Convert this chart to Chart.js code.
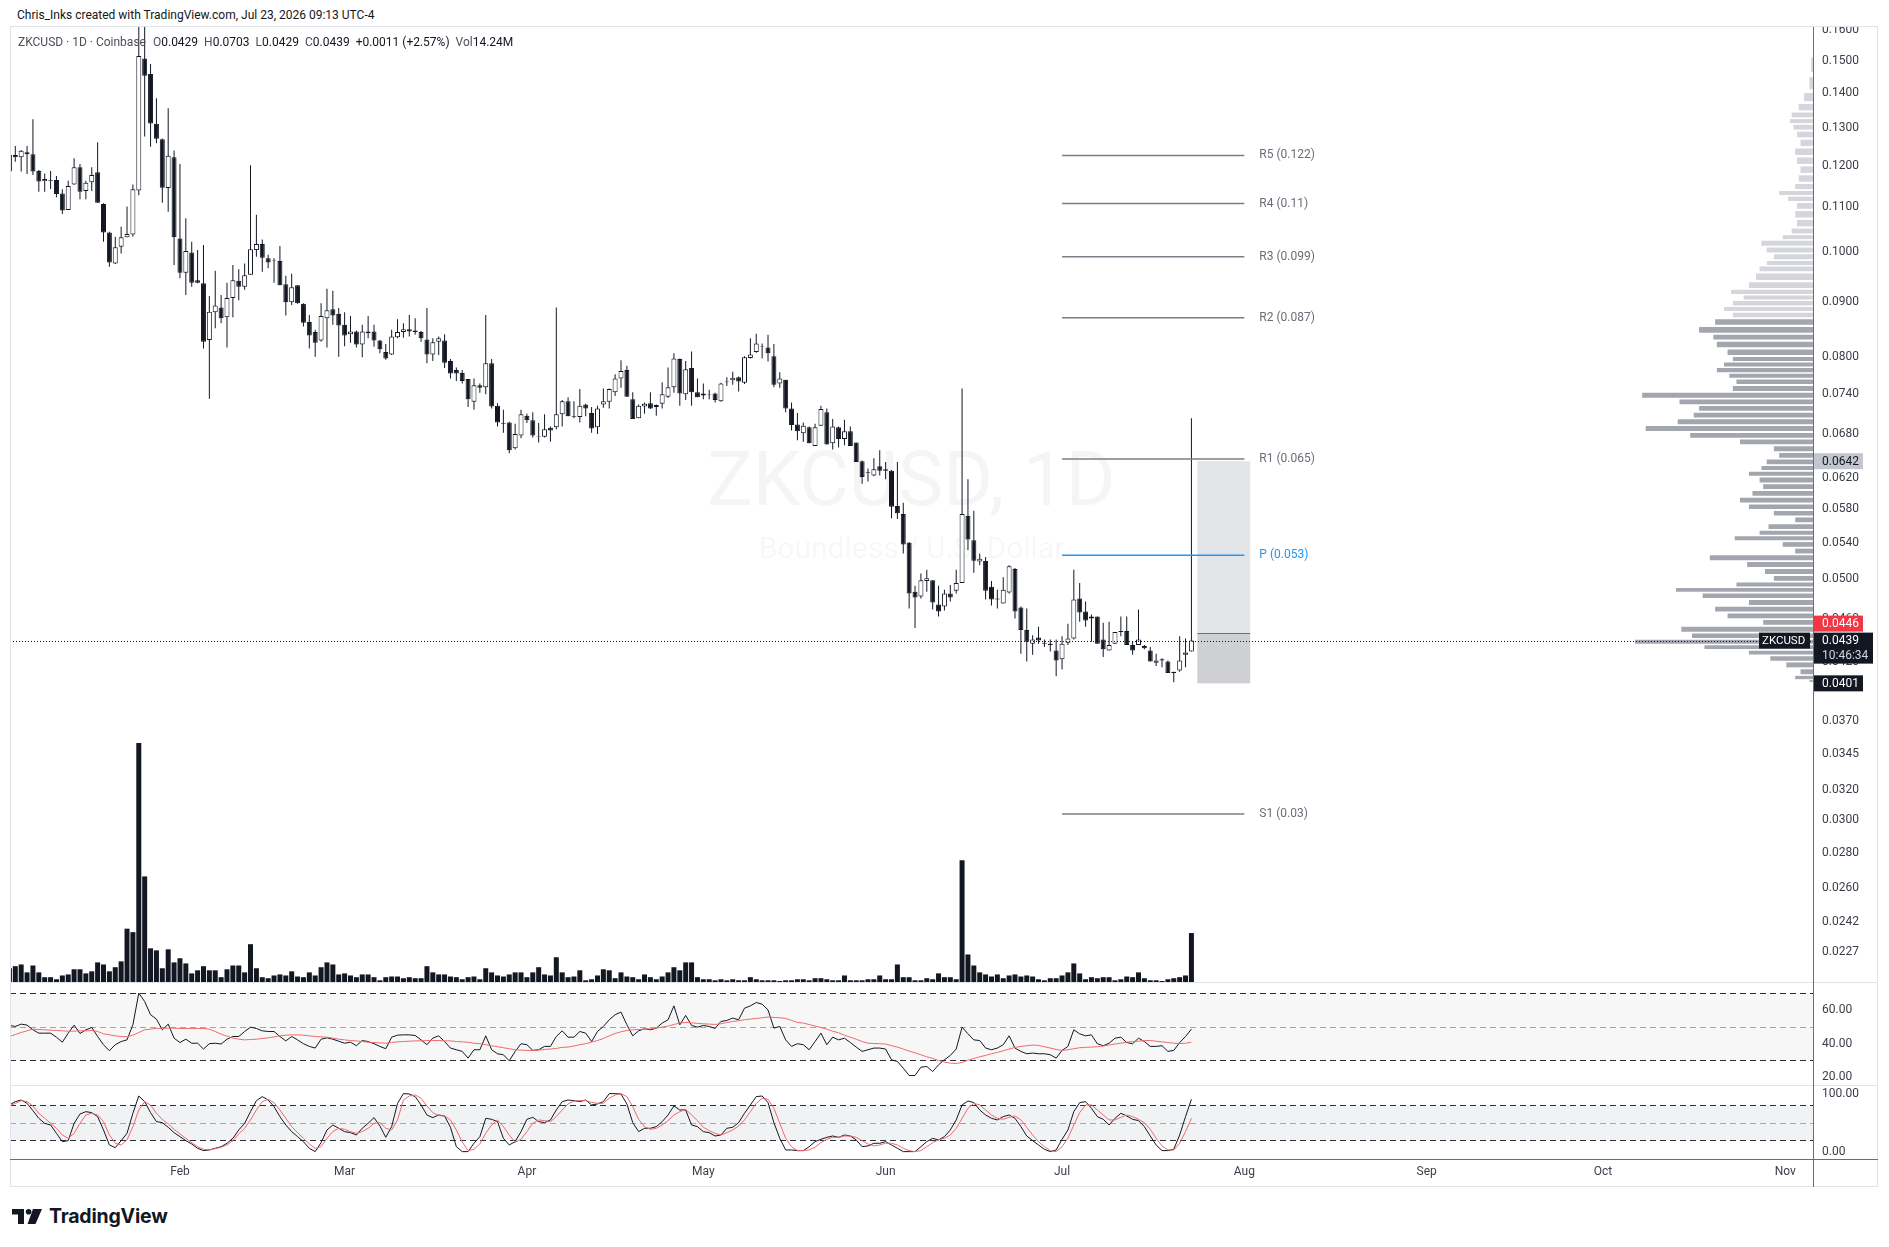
<!DOCTYPE html>
<html>
<head>
<meta charset="utf-8">
<title>ZKCUSD · 1D · Coinbase</title>
<script src="https://cdn.jsdelivr.net/npm/chart.js@4.4.1/dist/chart.umd.min.js"></script>
<style>
  html, body { margin: 0; padding: 0; background: #fff; }
  body { width: 1889px; height: 1247px; position: relative; overflow: hidden;
         font-family: Roboto, "Noto Sans", sans-serif; color: #131722; }
  canvas { position: absolute; }
  .abs { position: absolute; }
  #hdr { left: 17px; top: 7px; font-size: 12px; line-height: 16px; white-space: nowrap; z-index: 5; }
  #legend { left: 18px; top: 34px; font-size: 12px; line-height: 16px; white-space: nowrap; z-index: 5; }
  #legend .k { color: #4c4f5a; }
  #legend .v { color: #131722; margin-right: 6px; }
  #legend .sym { color: #4c4f5a; margin-right: 7px; }
  #frame { left: 10px; top: 26px; width: 1868px; height: 1161px; border: 1px solid #e0e3eb; box-sizing: border-box; z-index: 4; }
  .hl { height: 1px; left: 10px; width: 1868px; z-index: 4; }
  .wm { left: 10px; width: 1803px; text-align: center; color: rgba(19, 23, 34, 0.045); white-space: nowrap; z-index: 0; }
  #wm1 { top: 434px; font-size: 76px; line-height: 90px; }
  #wm2 { top: 530px; font-size: 30px; line-height: 36px; }
  #brand { left: 12px; top: 1207px; height: 18px; display: flex; align-items: center; z-index: 5; }
  #brand span { font-family: Inter, Roboto, sans-serif; font-weight: 700; font-size: 19.5px; margin-left: 7px; letter-spacing: -0.2px; }
</style>
</head>
<body>
<div id="hdr" class="abs">Chris_Inks created with TradingView.com, Jul 23, 2026 09:13 UTC-4</div>
<div id="frame" class="abs"></div>
<div id="wm1" class="abs wm">ZKCUSD, 1D</div>
<div id="wm2" class="abs wm">Boundless / U.S. Dollar</div>

<canvas id="profileChart" width="1868" height="955" style="left:10px;top:27px;z-index:1"></canvas>
<canvas id="priceChart" width="1868" height="955" style="left:10px;top:27px;z-index:2"></canvas>
<canvas id="rsiChart" width="1868" height="102" style="left:10px;top:983px;z-index:2"></canvas>
<canvas id="stochChart" width="1868" height="101" style="left:10px;top:1086px;z-index:2"></canvas>

<div class="abs hl" style="top:982px;background:#e0e3eb"></div>
<div class="abs hl" style="top:1085px;background:#e0e3eb"></div>
<div class="abs hl" style="top:1159px;background:#6a6d78"></div>
<div class="abs" style="left:1813px;top:27px;width:1px;height:1160px;background:#6a6d78;z-index:4"></div>

<div id="legend" class="abs"></div>

<div id="brand" class="abs">
  <svg width="30" height="15" viewBox="0 0 30 15">
    <rect x="0" y="0" width="12" height="5.5" fill="#131722"/>
    <rect x="6" y="0" width="6" height="15" fill="#131722"/>
    <circle cx="16.6" cy="2.8" r="2.8" fill="#131722"/>
    <polygon points="21,0 30,0 23.5,15 15.5,15" fill="#131722"/>
  </svg>
  <span>TradingView</span>
</div>

<script>
// Свечи ZKCUSD, 1D, с 3 янв по 23 июл 2026 (индекс 0 = 3 января)
const symbol = 'ZKCUSD';
const startDate = new Date(2026, 0, 3);

const openPrices = [
  0.1186,0.1228,0.1222,0.1235,0.1230,0.1187,0.1162,0.1165,0.1165,0.1132,
  0.1093,0.1154,0.1197,0.1138,0.1159,0.1184,0.1107,0.1042,0.0976,0.1011,
  0.1032,0.1038,0.1139,0.1507,0.1458,0.1312,0.1270,0.1145,0.1222,0.1029,
  0.0957,0.0999,0.0942,0.0936,0.0830,0.0880,0.0889,0.0871,0.0907,0.0941,
  0.0929,0.0953,0.1004,0.1017,0.0987,0.0983,0.0981,0.0934,0.0899,0.0932,
  0.0896,0.0862,0.0844,0.0829,0.0869,0.0886,0.0877,0.0857,0.0840,0.0845,
  0.0822,0.0845,0.0845,0.0829,0.0809,0.0805,0.0835,0.0844,0.0849,0.0847,
  0.0844,0.0831,0.0805,0.0827,0.0829,0.0794,0.0779,0.0774,0.0764,0.0728,
  0.0754,0.0751,0.0790,0.0722,0.0696,0.0697,0.0660,0.0678,0.0707,0.0700,
  0.0677,0.0676,0.0689,0.0690,0.0709,0.0729,0.0706,0.0705,0.0724,0.0711,
  0.0690,0.0724,0.0728,0.0743,0.0765,0.0779,0.0732,0.0703,0.0721,0.0726,
  0.0720,0.0725,0.0736,0.0751,0.0797,0.0740,0.0782,0.0743,0.0738,0.0740,
  0.0741,0.0729,0.0760,0.0762,0.0767,0.0758,0.0799,0.0809,0.0819,0.0817,
  0.0802,0.0757,0.0763,0.0718,0.0694,0.0681,0.0690,0.0663,0.0692,0.0712,
  0.0667,0.0690,0.0673,0.0684,0.0668,0.0642,0.0627,0.0623,0.0635,0.0631,
  0.0629,0.0584,0.0574,0.0540,0.0487,0.0482,0.0498,0.0499,0.0474,0.0472,
  0.0485,0.0488,0.0496,0.0572,0.0543,0.0519,0.0520,0.0492,0.0480,0.0475,
  0.0486,0.0511,0.0471,0.0449,0.0436,0.0442,0.0437,0.0436,0.0430,0.0422,
  0.0437,0.0441,0.0480,0.0467,0.0460,0.0462,0.0440,0.0430,0.0436,0.0447,
  0.0448,0.0435,0.0435,0.0434,0.0430,0.0419,0.0422,0.0420,0.0411,0.0412,
  0.0426,0.0429
];
const highPrices = [
  0.1230,0.1252,0.1241,0.1252,0.1325,0.1190,0.1181,0.1187,0.1175,0.1142,
  0.1163,0.1220,0.1205,0.1163,0.1197,0.1262,0.1109,0.1044,0.1033,0.1055,
  0.1101,0.1154,0.1750,0.1650,0.1489,0.1385,0.1272,0.1356,0.1240,0.1205,
  0.1074,0.1022,0.1004,0.1015,0.0911,0.0961,0.0913,0.0937,0.0973,0.0964,
  0.0976,0.1202,0.1082,0.1027,0.0994,0.0987,0.1013,0.0951,0.0955,0.0932,
  0.0897,0.0875,0.0848,0.0897,0.0925,0.0921,0.0888,0.0880,0.0873,0.0847,
  0.0857,0.0873,0.0857,0.0830,0.0823,0.0848,0.0867,0.0860,0.0875,0.0869,
  0.0846,0.0888,0.0833,0.0836,0.0840,0.0797,0.0783,0.0779,0.0764,0.0765,
  0.0757,0.0875,0.0797,0.0726,0.0716,0.0698,0.0695,0.0716,0.0710,0.0712,
  0.0696,0.0709,0.0691,0.0889,0.0731,0.0735,0.0729,0.0748,0.0725,0.0720,
  0.0722,0.0749,0.0749,0.0772,0.0795,0.0786,0.0743,0.0724,0.0727,0.0743,
  0.0724,0.0759,0.0783,0.0807,0.0798,0.0794,0.0810,0.0765,0.0757,0.0747,
  0.0742,0.0758,0.0767,0.0776,0.0768,0.0802,0.0833,0.0841,0.0824,0.0839,
  0.0823,0.0775,0.0763,0.0727,0.0711,0.0697,0.0691,0.0695,0.0722,0.0718,
  0.0702,0.0691,0.0701,0.0691,0.0668,0.0643,0.0632,0.0646,0.0657,0.0641,
  0.0630,0.0641,0.0588,0.0541,0.0493,0.0506,0.0510,0.0499,0.0493,0.0489,
  0.0494,0.0510,0.0749,0.0618,0.0578,0.0528,0.0524,0.0498,0.0489,0.0502,
  0.0515,0.0512,0.0472,0.0470,0.0444,0.0452,0.0440,0.0440,0.0440,0.0443,
  0.0455,0.0510,0.0496,0.0477,0.0464,0.0462,0.0456,0.0457,0.0447,0.0462,
  0.0462,0.0438,0.0469,0.0435,0.0433,0.0427,0.0423,0.0421,0.0411,0.0443,
  0.0441,0.0703
];
const lowPrices = [
  0.1180,0.1211,0.1186,0.1180,0.1177,0.1136,0.1136,0.1143,0.1123,0.1084,
  0.1093,0.1153,0.1118,0.1118,0.1138,0.1110,0.1022,0.0969,0.0975,0.0997,
  0.1032,0.1033,0.1128,0.1277,0.1250,0.1259,0.1110,0.1089,0.0973,0.0946,
  0.0913,0.0929,0.0936,0.0815,0.0733,0.0851,0.0860,0.0817,0.0871,0.0903,
  0.0923,0.0953,0.0990,0.0959,0.0966,0.0937,0.0932,0.0874,0.0894,0.0896,
  0.0854,0.0815,0.0801,0.0827,0.0817,0.0857,0.0801,0.0819,0.0825,0.0817,
  0.0800,0.0833,0.0818,0.0807,0.0796,0.0804,0.0833,0.0834,0.0836,0.0839,
  0.0827,0.0790,0.0794,0.0804,0.0782,0.0765,0.0761,0.0757,0.0720,0.0716,
  0.0742,0.0740,0.0718,0.0691,0.0682,0.0653,0.0658,0.0674,0.0696,0.0675,
  0.0668,0.0675,0.0669,0.0687,0.0691,0.0706,0.0703,0.0697,0.0706,0.0682,
  0.0680,0.0719,0.0718,0.0737,0.0750,0.0736,0.0702,0.0703,0.0710,0.0717,
  0.0707,0.0718,0.0734,0.0742,0.0722,0.0731,0.0722,0.0735,0.0732,0.0732,
  0.0727,0.0728,0.0753,0.0755,0.0744,0.0756,0.0798,0.0808,0.0798,0.0793,
  0.0751,0.0750,0.0712,0.0685,0.0671,0.0669,0.0667,0.0663,0.0692,0.0665,
  0.0658,0.0661,0.0664,0.0663,0.0641,0.0612,0.0615,0.0622,0.0623,0.0618,
  0.0569,0.0568,0.0528,0.0470,0.0451,0.0480,0.0487,0.0469,0.0462,0.0468,
  0.0477,0.0485,0.0496,0.0532,0.0507,0.0515,0.0479,0.0473,0.0470,0.0475,
  0.0485,0.0460,0.0427,0.0420,0.0426,0.0436,0.0433,0.0429,0.0407,0.0413,
  0.0435,0.0440,0.0457,0.0452,0.0438,0.0436,0.0424,0.0430,0.0436,0.0443,
  0.0435,0.0426,0.0435,0.0431,0.0420,0.0416,0.0415,0.0410,0.0402,0.0411,
  0.0415,0.0429
];
const closePrices = [
  0.1228,0.1222,0.1239,0.1230,0.1186,0.1161,0.1167,0.1163,0.1131,0.1092,
  0.1150,0.1197,0.1136,0.1158,0.1177,0.1110,0.1042,0.0978,0.1010,0.1032,
  0.1039,0.1142,0.1515,0.1453,0.1313,0.1271,0.1146,0.1226,0.1032,0.0957,
  0.1002,0.0937,0.0937,0.0827,0.0881,0.0893,0.0869,0.0907,0.0942,0.0929,
  0.0952,0.1006,0.1017,0.0988,0.0978,0.0982,0.0932,0.0899,0.0928,0.0897,
  0.0861,0.0838,0.0825,0.0873,0.0884,0.0874,0.0856,0.0838,0.0845,0.0822,
  0.0845,0.0842,0.0829,0.0814,0.0798,0.0836,0.0844,0.0849,0.0845,0.0844,
  0.0833,0.0805,0.0826,0.0833,0.0791,0.0773,0.0773,0.0761,0.0732,0.0754,
  0.0750,0.0790,0.0721,0.0697,0.0695,0.0657,0.0680,0.0709,0.0700,0.0678,
  0.0676,0.0687,0.0685,0.0709,0.0729,0.0706,0.0705,0.0722,0.0718,0.0688,
  0.0718,0.0729,0.0748,0.0765,0.0777,0.0736,0.0702,0.0722,0.0725,0.0718,
  0.0723,0.0740,0.0751,0.0798,0.0741,0.0780,0.0743,0.0735,0.0741,0.0739,
  0.0731,0.0757,0.0759,0.0766,0.0760,0.0800,0.0805,0.0824,0.0818,0.0807,
  0.0755,0.0765,0.0718,0.0693,0.0684,0.0692,0.0667,0.0690,0.0717,0.0665,
  0.0691,0.0673,0.0684,0.0663,0.0641,0.0621,0.0626,0.0631,0.0629,0.0629,
  0.0583,0.0575,0.0538,0.0485,0.0481,0.0499,0.0501,0.0476,0.0467,0.0485,
  0.0481,0.0496,0.0574,0.0544,0.0520,0.0522,0.0488,0.0479,0.0479,0.0489,
  0.0514,0.0467,0.0449,0.0438,0.0440,0.0439,0.0436,0.0435,0.0421,0.0436,
  0.0441,0.0479,0.0466,0.0458,0.0462,0.0436,0.0431,0.0435,0.0447,0.0448,
  0.0435,0.0430,0.0440,0.0432,0.0420,0.0421,0.0421,0.0410,0.0410,0.0421,
  0.0428,0.0439
];
// Объём, млн
const volumes = [
  4.0,4.6,5.1,2.8,4.8,2.8,1.4,1.4,0.8,1.9,
  2.2,3.7,3.7,2.5,3.1,5.7,5.1,3.1,4.3,6.0,
  15.5,14.5,69.5,30.7,9.8,9.2,4.0,9.5,5.7,6.9,
  5.4,2.5,3.4,4.6,3.4,3.4,1.4,3.7,4.8,4.8,
  2.8,11.0,4.0,1.4,1.1,1.9,2.2,1.9,3.1,1.6,
  1.4,2.8,1.9,4.3,5.7,5.1,2.2,2.5,1.9,1.4,
  2.2,2.2,1.4,0.5,1.4,1.6,1.6,1.1,1.4,1.1,
  1.1,4.6,2.8,2.2,2.2,1.6,1.4,0.8,1.4,1.6,
  0.8,4.0,2.8,1.9,1.6,2.2,2.8,2.8,1.4,2.8,
  4.3,2.2,1.9,7.2,2.8,1.4,1.6,3.4,0.5,0.8,
  1.9,3.7,3.4,1.1,2.8,1.6,1.4,0.8,2.2,1.4,
  0.8,1.6,2.8,4.3,3.4,5.7,5.7,1.4,0.8,0.8,
  0.5,0.8,0.5,0.8,0.5,0.5,1.4,0.8,0.5,0.5,
  0.5,0.3,0.5,0.5,0.8,0.8,0.5,1.1,1.1,0.8,
  0.5,0.5,1.9,0.5,0.5,0.5,0.8,0.8,1.9,0.8,
  0.8,5.1,1.4,1.4,0.5,0.5,1.1,0.8,2.5,1.4,
  1.4,0.8,35.4,8.0,4.8,2.8,2.2,1.6,2.2,1.1,
  1.9,2.2,1.6,1.9,1.6,0.8,0.5,1.1,1.1,1.9,
  2.8,5.4,2.5,0.8,1.4,1.1,1.4,1.4,0.5,0.8,
  1.6,1.4,2.8,1.1,0.5,0.5,0.3,0.8,1.1,1.4,
  1.9,14.24
];
// RSI и его скользящая
const rsiValues = [
  50.8,50.2,51.6,51.0,48.2,46.2,46.2,46.2,43.8,40.8,
  46.2,51.0,46.0,48.2,49.6,44.2,39.3,35.7,39.3,41.2,
  42.2,51.2,70.1,65.1,57.2,54.6,48.2,51.6,43.2,40.6,
  42.6,40.2,40.2,36.7,39.9,40.2,39.7,42.6,44.2,44.2,
  47.2,49.8,49.0,47.6,47.2,47.2,44.2,41.6,44.2,42.2,
  39.9,38.3,37.3,42.6,43.4,42.6,41.4,40.2,40.8,38.7,
  41.8,41.2,39.9,38.3,36.9,43.8,45.0,45.2,45.2,44.8,
  42.2,39.3,43.2,44.6,41.2,37.3,36.3,35.3,31.3,36.3,
  36.3,44.6,36.3,33.9,33.3,29.7,35.3,39.9,39.3,35.9,
  36.3,38.3,38.3,44.2,47.6,43.8,43.8,47.2,46.2,41.2,
  47.2,50.2,54.2,57.2,58.8,51.2,44.6,47.6,48.8,48.2,
  49.2,52.2,54.2,62.5,51.2,56.8,50.8,49.8,50.8,50.2,
  49.0,53.2,53.8,55.2,54.2,61.1,62.5,64.5,63.5,60.1,
  49.2,50.2,42.2,38.3,39.9,39.3,36.3,41.2,46.2,39.3,
  43.8,42.2,43.2,40.6,37.9,35.3,36.3,37.3,37.3,36.7,
  30.3,29.3,25.3,20.9,20.9,25.9,26.3,23.3,27.3,30.3,
  32.9,36.7,49.8,45.8,42.2,41.8,37.3,36.3,37.3,39.3,
  44.6,37.3,35.3,33.9,34.3,33.9,33.9,33.3,31.3,35.9,
  38.3,48.2,45.8,44.6,45.2,39.9,38.7,40.2,43.2,43.8,
  40.6,39.9,43.2,41.2,38.3,38.3,38.7,35.3,35.9,40.6,
  44.2,48.6
];
const rsiMaValues = [
  44.2,45.4,46.6,47.6,48.6,48.4,48.2,48.0,47.8,47.6,
  47.4,47.4,47.6,47.6,47.8,47.2,45.8,45.2,44.6,44.2,
  44.0,45.0,46.6,48.2,48.6,49.0,49.2,49.2,49.2,49.0,
  49.0,49.0,49.0,49.0,48.6,47.2,45.6,44.4,43.2,42.6,
  42.2,42.4,42.6,43.0,43.4,44.0,44.6,45.0,45.2,45.2,
  45.0,44.6,44.2,44.0,43.8,43.2,42.6,42.2,41.8,41.6,
  41.2,40.8,40.6,40.4,40.2,40.6,41.0,41.2,41.4,41.6,
  41.6,41.8,41.8,41.8,41.6,41.6,41.2,41.0,40.8,40.2,
  39.9,39.3,38.7,38.1,37.5,36.9,36.3,36.1,35.9,35.9,
  36.1,36.5,36.7,37.1,37.7,37.9,38.5,39.3,39.9,40.8,
  41.8,43.0,44.6,46.0,47.0,47.8,48.2,48.4,48.6,48.8,
  49.2,49.8,50.4,51.4,52.2,52.6,52.4,52.0,51.8,51.6,
  51.4,51.8,52.6,53.2,53.6,54.2,54.6,55.0,55.4,55.8,
  55.6,55.4,55.0,53.8,52.6,52.2,51.4,50.4,49.6,48.6,
  47.4,46.4,45.0,43.8,42.6,41.2,40.2,40.0,39.9,39.7,
  38.7,37.9,36.7,35.5,34.5,33.3,32.1,31.1,29.9,28.9,
  28.3,28.1,28.7,30.1,31.1,32.1,32.9,33.9,34.7,35.7,
  36.7,37.7,38.3,38.7,39.1,38.9,38.1,37.3,36.5,35.9,
  36.3,36.9,37.5,37.7,37.9,38.1,38.5,39.1,39.7,40.2,
  40.8,41.2,41.4,41.8,41.8,41.4,41.0,40.6,40.2,40.0,
  40.2,40.8
];
// Стохастик %K и %D
const stochK = [
  80.6,86.3,89.1,83.4,70.9,57.7,49.1,46.3,32.0,17.7,
  19.4,49.1,65.1,69.1,67.4,60.6,37.7,12.0,7.4,19.4,
  32.0,66.3,96.0,86.3,67.4,52.0,50.3,42.3,33.1,26.3,
  19.4,13.7,6.3,2.3,3.4,6.3,9.1,14.9,23.4,37.7,
  49.1,69.1,88.0,94.9,89.1,77.7,60.6,46.3,34.9,26.3,
  17.7,6.3,0.6,16.0,37.7,46.3,40.6,34.9,33.1,29.1,
  40.6,49.1,58.9,44.6,25.1,43.4,83.4,100,99.4,94.9,
  80.6,63.4,58.9,63.4,61.7,42.3,9.1,0.6,0.6,14.9,
  26.3,57.7,56.0,52.0,23.4,12.0,17.7,34.9,56.0,59.4,
  52.0,50.3,54.9,72.0,86.3,89.1,88.0,86.3,89.1,80.6,
  82.3,86.3,100,100,99.4,82.3,50.3,34.9,40.6,40.6,
  43.4,52.0,63.4,78.9,72.0,72.0,46.3,43.4,34.9,33.1,
  27.4,29.1,40.6,42.3,50.3,66.3,80.6,94.9,96.0,84.6,
  50.3,23.4,3.4,3.4,2.3,2.3,9.1,17.7,21.7,25.1,
  27.4,25.1,29.1,27.4,20.6,9.1,10.3,14.9,14.9,17.7,
  12.0,6.3,0.6,0.6,0.6,9.1,17.7,23.4,20.6,26.3,
  37.7,54.9,80.6,87.4,84.6,72.0,63.4,57.7,54.9,60.6,
  63.4,57.7,43.4,27.4,19.4,12.0,4.6,0.6,3.4,21.7,
  37.7,69.1,84.6,86.3,74.9,60.6,56.0,46.3,57.7,66.3,
  61.7,56.0,53.7,43.4,27.4,12.0,2.3,2.3,4.6,29.1,
  60.6,90.3
];
const stochD = [
  78.9,83.4,88.0,86.3,78.9,66.3,57.7,49.1,40.6,29.1,
  23.4,32.0,49.1,63.4,66.3,63.4,52.0,29.1,14.9,12.0,
  20.6,43.4,72.0,86.3,80.6,66.3,56.0,48.0,38.9,30.9,
  23.4,16.0,9.1,4.6,3.4,5.7,8.0,12.0,19.4,30.9,
  40.6,54.9,72.0,86.3,90.3,84.6,72.0,57.7,43.4,33.1,
  23.4,13.7,6.3,9.1,23.4,34.9,40.6,38.9,34.9,32.0,
  34.9,40.6,49.1,50.3,40.6,37.7,54.9,89.1,96.0,97.7,
  92.0,78.9,67.4,62.3,61.7,54.9,37.7,17.1,2.3,4.6,
  13.7,32.0,46.3,54.9,43.4,29.1,16.6,21.7,34.9,49.1,
  54.9,53.7,52.0,60.6,72.0,82.3,87.4,88.0,88.0,85.1,
  83.4,83.4,92.0,97.7,100,94.9,77.7,56.0,43.4,38.9,
  40.6,46.3,53.7,63.4,69.1,73.1,63.4,53.7,42.3,36.6,
  32.0,29.1,33.1,37.7,44.6,54.9,69.1,83.4,92.0,90.3,
  74.9,49.1,23.4,9.1,2.3,2.3,3.4,8.0,16.0,21.7,
  25.1,25.1,27.4,27.4,25.1,19.4,13.7,10.3,12.0,14.9,
  14.9,12.0,6.3,2.3,0.6,2.3,9.1,16.0,20.6,23.4,
  29.1,40.6,57.7,74.9,83.4,80.6,72.0,63.4,57.7,56.0,
  59.4,61.7,54.9,42.3,29.1,17.7,9.1,2.3,0.6,9.1,
  23.4,46.3,67.4,80.6,80.6,72.0,63.4,54.9,54.9,59.4,
  63.4,60.6,56.0,50.3,38.9,23.4,10.3,3.4,3.4,14.9,
  34.9,57.7
];

// Подписи шкал
const priceTicks = [0.16,0.15,0.14,0.13,0.12,0.11,0.10,0.09,0.08,0.074,0.068,0.062,0.058,0.054,0.05,0.046,0.042,0.04,0.037,0.0345,0.032,0.03,0.028,0.026,0.0242,0.0227];
const rsiTicks = [20, 40, 60];
const stochTicks = [0, 100];
const rsiLevels = [70, 50, 30];
const stochLevels = [80, 50, 20];
const monthNames = ['Feb','Mar','Apr','May','Jun','Jul','Aug','Sep','Oct','Nov'];

// Месячные пивоты (июль)
const pivotNames = ['R5','R4','R3','R2','R1','P','S1'];
const pivotValues = [0.1227, 0.1108, 0.0990, 0.0870, 0.0645, 0.0526, 0.0304];
const pivotTexts = ['0.122','0.11','0.099','0.087','0.065','0.053','0.03'];
const pivotRange = [179, 210];

// Инструмент позиции: верх, вход, стоп
const positionRange = [202, 211];
const positionLevels = [0.0642, 0.0446, 0.0401];
const countdown = '10:46:34';

// Профиль объёма видимого диапазона
const profilePrices = [
  0.1487,0.1425,0.1385,0.1359,0.1334,0.1321,0.1303,0.1284,0.1260,0.1237,
  0.1213,0.1191,0.1168,0.1147,0.1133,0.1120,0.1104,0.1083,0.1063,0.1043,
  0.1033,0.1019,0.1004,0.0990,0.0976,0.0967,0.0949,0.0931,0.0918,0.0909,
  0.0897,0.0886,0.0876,0.0863,0.0847,0.0835,0.0823,0.0808,0.0796,0.0789,
  0.0778,0.0770,0.0760,0.0749,0.0738,0.0728,0.0718,0.0708,0.0698,0.0688,
  0.0678,0.0669,0.0659,0.0650,0.0641,0.0632,0.0626,0.0617,0.0608,0.0600,
  0.0591,0.0583,0.0575,0.0567,0.0559,0.0551,0.0546,0.0538,0.0531,0.0523,
  0.0516,0.0508,0.0501,0.0494,0.0489,0.0483,0.0476,0.0469,0.0463,0.0456,
  0.0450,0.0443,0.0438,0.0433,0.0428,0.0423,0.0417,0.0411,0.0405,0.0403
];
const profileVolumes = [
  1,2,5,8,12,13,11,9,7,10,
  9,7,8,10,19,14,9,10,9,12,
  17,29,26,22,26,30,32,36,46,39,
  45,50,45,55,64,56,54,48,45,50,
  54,47,43,45,96,75,64,67,76,94,
  69,41,22,19,26,29,36,30,28,34,
  41,36,22,10,25,30,44,17,10,58,
  37,27,22,43,77,62,36,55,48,28,
  74,68,100,61,36,24,15,7,10,2
];
const valueAreaHigh = 0.0866;

// Общие настройки
Chart.defaults.font.family = 'Roboto, "Noto Sans", sans-serif';
Chart.defaults.font.size = 12;
Chart.defaults.color = '#3b3e48';
Chart.defaults.animation = false;

const xMin = 0.1;
const xMax = 306.7;
const last = closePrices.length - 1;
const ink = '#131722';
const axisFont = { size: 12 };

// Фиксированная ширина правой шкалы и без отступов под крайние подписи
function fixWidth(scale) {
  scale.width = 65;
  scale.paddingTop = 0;
  scale.paddingBottom = 0;
}

function dayIndex(date) {
  return Math.round((date - startDate) / 86400000);
}
const monthTicks = monthNames.map((m, k) => dayIndex(new Date(2026, k + 1, 1)));

// Легенда
function fmt(v) { return v.toFixed(4); }
function fillLegend() {
  const change = closePrices[last] - closePrices[last - 1];
  const pct = change / closePrices[last - 1] * 100;
  const sign = change >= 0 ? '+' : '';
  document.getElementById('legend').innerHTML =
    `<span class="sym">${symbol} · 1D · Coinbase</span>` +
    `<span class="k">O</span><span class="v">${fmt(openPrices[last])}</span>` +
    `<span class="k">H</span><span class="v">${fmt(highPrices[last])}</span>` +
    `<span class="k">L</span><span class="v">${fmt(lowPrices[last])}</span>` +
    `<span class="k">C</span><span class="v">${fmt(closePrices[last])}</span>` +
    `<span class="v">${sign}${change.toFixed(4)} (${sign}${pct.toFixed(2)}%)</span>` +
    `<span class="k">Vol</span><span class="v">${volumes[last].toFixed(2)}M</span>`;
}
fillLegend();

// Плагин: инструмент позиции, пунктир цены, подписи пивотов, метки на шкале
const priceOverlay = {
  id: 'priceOverlay',
  beforeDatasetsDraw(chart) {
    const { ctx, scales: { x, y } } = chart;
    const bx0 = x.getPixelForValue(positionRange[0]);
    const bx1 = x.getPixelForValue(positionRange[1]);
    const [top, mid, bot] = positionLevels.map(v => y.getPixelForValue(v));
    ctx.save();
    ctx.fillStyle = '#e3e4e8';
    ctx.fillRect(bx0, top, bx1 - bx0, mid - top);
    ctx.fillStyle = '#cfd0d4';
    ctx.fillRect(bx0, mid, bx1 - bx0, bot - mid);
    ctx.strokeStyle = '#f23645';
    ctx.lineWidth = 1;
    ctx.beginPath();
    ctx.moveTo(bx0, Math.round(mid) + 0.5);
    ctx.lineTo(bx1, Math.round(mid) + 0.5);
    ctx.stroke();
    ctx.restore();
  },
  afterDatasetsDraw(chart) {
    const { ctx, chartArea: a, scales: { x, y } } = chart;
    ctx.save();
    // пунктир последней цены
    const yLast = Math.round(y.getPixelForValue(closePrices[last])) + 0.5;
    ctx.strokeStyle = ink;
    ctx.lineWidth = 1;
    ctx.setLineDash([1, 2]);
    ctx.beginPath();
    ctx.moveTo(a.left, yLast);
    ctx.lineTo(a.right, yLast);
    ctx.stroke();
    ctx.setLineDash([]);
    // подписи пивотов
    ctx.font = '12px Roboto, sans-serif';
    ctx.textBaseline = 'middle';
    ctx.textAlign = 'left';
    const lx = x.getPixelForValue(pivotRange[1]) + 15;
    pivotNames.forEach((name, k) => {
      ctx.fillStyle = name === 'P' ? '#2196f3' : '#6a6d78';
      ctx.fillText(`${name} (${pivotTexts[k]})`, lx, y.getPixelForValue(pivotValues[k]));
    });
    ctx.restore();
  },
  afterDraw(chart) {
    const { ctx, chartArea: a, scales: { y } } = chart;
    const ax = a.right + 1;
    const tx = a.right + 9;
    ctx.save();
    ctx.font = '12px Roboto, sans-serif';
    ctx.textBaseline = 'middle';
    ctx.textAlign = 'left';

    const yTop = y.getPixelForValue(positionLevels[0]);
    ctx.fillStyle = '#c3c6ce';
    ctx.fillRect(ax, yTop - 8, 49, 16);
    ctx.fillStyle = ink;
    ctx.fillText(fmt(positionLevels[0]), tx, yTop + 0.5);

    const yLast = y.getPixelForValue(closePrices[last]);
    ctx.fillStyle = ink;
    ctx.fillRect(ax, yLast - 8, 59, 31);
    ctx.fillStyle = '#ffffff';
    ctx.fillText(fmt(closePrices[last]), tx, yLast + 0.5);
    ctx.fillStyle = '#d1d4dc';
    ctx.fillText(countdown, tx, yLast + 15.5);

    ctx.fillStyle = '#f23645';
    ctx.fillRect(ax, yLast - 25, 49, 16);
    ctx.fillStyle = '#ffffff';
    ctx.fillText(fmt(positionLevels[1]), tx, yLast - 16.5);

    // метка символа слева от шкалы
    ctx.fillStyle = ink;
    ctx.fillRect(a.right - 54, yLast - 8, 51, 16);
    ctx.fillStyle = '#ffffff';
    ctx.font = '11.5px Roboto, sans-serif';
    ctx.fillText(symbol, a.right - 51, yLast + 0.5);
    ctx.font = '12px Roboto, sans-serif';

    const yStop = y.getPixelForValue(positionLevels[2]);
    ctx.fillStyle = ink;
    ctx.fillRect(ax, yStop - 8, 49, 16);
    ctx.fillStyle = '#ffffff';
    ctx.fillText(fmt(positionLevels[2]), tx, yStop + 0.5);
    ctx.restore();
  }
};

// Плагин: полосы и уровни осциллятора
function levelBands(levels, fill) {
  return {
    id: 'levelBands',
    beforeDatasetsDraw(chart) {
      const { ctx, chartArea: a, scales: { y } } = chart;
      const [up, mid, low] = levels.map(v => Math.round(y.getPixelForValue(v)) + 0.5);
      ctx.save();
      ctx.fillStyle = fill;
      ctx.fillRect(a.left, up, a.right - a.left, low - up);
      ctx.lineWidth = 1;
      ctx.setLineDash([6, 4]);
      ctx.strokeStyle = '#2a2e39';
      [up, low].forEach(py => {
        ctx.beginPath();
        ctx.moveTo(a.left, py);
        ctx.lineTo(a.right, py);
        ctx.stroke();
      });
      ctx.strokeStyle = '#a3a6af';
      ctx.beginPath();
      ctx.moveTo(a.left, mid);
      ctx.lineTo(a.right, mid);
      ctx.stroke();
      ctx.restore();
    }
  };
}

const basePlugins = { legend: { display: false }, tooltip: { enabled: false } };

// Свечи + объём + пивоты
const pivotDatasets = pivotNames.map((name, k) => ({
  type: 'line',
  data: [{ x: pivotRange[0], y: pivotValues[k] }, { x: pivotRange[1], y: pivotValues[k] }],
  borderColor: name === 'P' ? '#2196f3' : '#7b7e87',
  borderWidth: 1.5,
  pointRadius: 0,
  yAxisID: 'y',
  order: 0
}));

new Chart(document.getElementById('priceChart'), {
  type: 'bar',
  data: {
    datasets: [
      ...pivotDatasets,
      {
        label: 'body',
        data: openPrices.map((o, i) => ({ x: i, y: [o, closePrices[i]] })),
        backgroundColor: openPrices.map((o, i) => closePrices[i] >= o ? '#ffffff' : ink),
        borderColor: ink,
        borderWidth: 1,
        borderSkipped: false,
        inflateAmount: 0,
        grouped: false,
        barThickness: 5,
        yAxisID: 'y',
        order: 1
      },
      {
        label: 'wick',
        data: lowPrices.map((l, i) => ({ x: i, y: [l, highPrices[i]] })),
        backgroundColor: ink,
        inflateAmount: 0,
        grouped: false,
        barThickness: 1,
        yAxisID: 'y',
        order: 2
      },
      {
        label: 'volume',
        data: volumes.map((v, i) => ({ x: i, y: v })),
        backgroundColor: ink,
        inflateAmount: 0,
        grouped: false,
        barThickness: 5,
        yAxisID: 'yVol',
        order: 3
      }
    ]
  },
  options: {
    responsive: false,
    events: [],
    layout: { padding: 0 },
    plugins: basePlugins,
    scales: {
      x: { type: 'linear', min: xMin, max: xMax, offset: false, display: false },
      y: {
        type: 'logarithmic', position: 'right', min: 0.02130, max: 0.16107,
        afterBuildTicks: s => { s.ticks = priceTicks.map(v => ({ value: v })); },
        afterFit: fixWidth,
        ticks: { callback: v => v.toFixed(4), padding: 9, font: axisFont, autoSkip: false },
        grid: { display: false, drawTicks: false },
        border: { display: false }
      },
      yVol: { type: 'linear', min: 0, max: 277.7, display: false }
    }
  },
  plugins: [priceOverlay]
});

// Профиль объёма
new Chart(document.getElementById('profileChart'), {
  type: 'bar',
  data: {
    datasets: [{
      data: profilePrices.map((p, i) => ({ x: profileVolumes[i], y: p })),
      backgroundColor: profilePrices.map(p => p <= valueAreaHigh ? '#a3a6ae' : '#d4d6db'),
      barThickness: 'flex',
      categoryPercentage: 1,
      barPercentage: 0.72,
      inflateAmount: 0
    }]
  },
  options: {
    responsive: false,
    events: [],
    indexAxis: 'y',
    layout: { padding: 0 },
    plugins: basePlugins,
    scales: {
      x: { type: 'linear', reverse: true, min: 0, max: 1013, display: false },
      y: {
        type: 'logarithmic', position: 'right', min: 0.02130, max: 0.16107,
        afterFit: fixWidth,
        ticks: { display: false },
        grid: { display: false, drawTicks: false },
        border: { display: false }
      }
    }
  }
});

function lineSet(values, color) {
  return {
    data: values.map((v, i) => ({ x: i, y: v })),
    borderColor: color,
    borderWidth: 1,
    pointRadius: 0,
    tension: 0
  };
}

function oscAxis(min, max, ticks) {
  return {
    position: 'right', min, max,
    afterBuildTicks: s => { s.ticks = ticks.map(v => ({ value: v })); },
    afterFit: fixWidth,
    ticks: { callback: v => v.toFixed(2), padding: 9, font: axisFont },
    grid: { display: false, drawTicks: false },
    border: { display: false }
  };
}

// RSI
new Chart(document.getElementById('rsiChart'), {
  type: 'line',
  data: { datasets: [lineSet(rsiMaValues, '#ef6a6a'), lineSet(rsiValues, ink)] },
  options: {
    responsive: false,
    events: [],
    layout: { padding: 0 },
    plugins: basePlugins,
    scales: {
      x: { type: 'linear', min: xMin, max: xMax, display: false },
      y: oscAxis(15.25, 76.15, rsiTicks)
    }
  },
  plugins: [levelBands(rsiLevels, 'rgba(120, 123, 134, 0.06)')]
});

// Стохастик + шкала времени
new Chart(document.getElementById('stochChart'), {
  type: 'line',
  data: { datasets: [lineSet(stochD, '#ef6a6a'), lineSet(stochK, ink)] },
  options: {
    responsive: false,
    events: [],
    layout: { padding: 0 },
    plugins: basePlugins,
    scales: {
      x: {
        type: 'linear', min: xMin, max: xMax, position: 'bottom',
        afterBuildTicks: s => { s.ticks = monthTicks.map(v => ({ value: v })); },
        afterFit: s => { s.height = 28; s.paddingLeft = 0; s.paddingRight = 0; },
        ticks: { callback: (v, k) => monthNames[k], autoSkip: false, maxRotation: 0, padding: 6, font: axisFont },
        grid: { display: false, drawTicks: false },
        border: { display: false }
      },
      y: oscAxis(-12.06, 113.1, stochTicks)
    }
  },
  plugins: [levelBands(stochLevels, 'rgba(120, 123, 134, 0.1)')]
});
</script>
</body>
</html>
